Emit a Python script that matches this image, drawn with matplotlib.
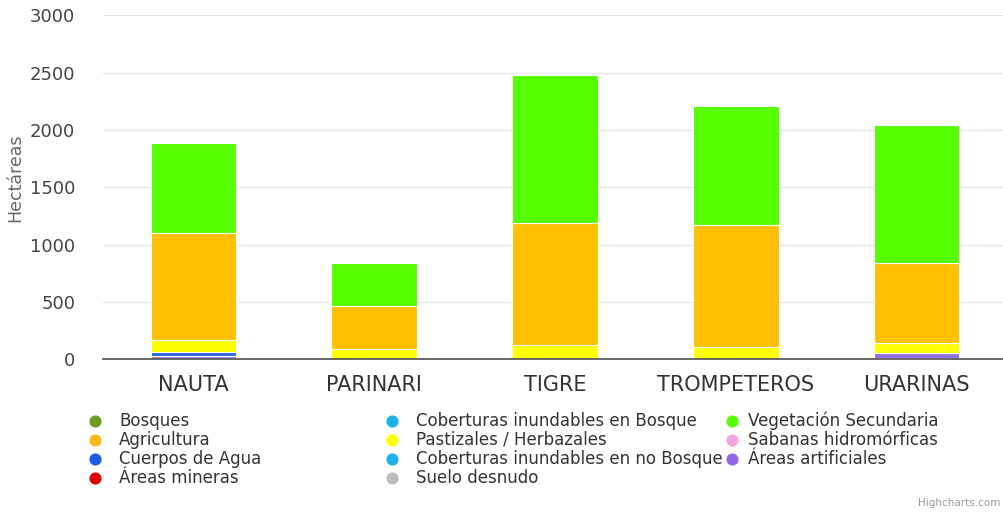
import numpy as np
import matplotlib
matplotlib.use("Agg")
import matplotlib.pyplot as plt

plt.rcParams['font.family'] = ['DejaVu Sans']

# municipios
categories = ["NAUTA", "PARINARI", "TIGRE", "TROMPETEROS", "URARINAS"]

# hectáreas por cobertura
bosques = [0, 0, 0, 0, 0]
agricultura = [933, 378, 1064, 1058, 697]
cuerpos_agua = [36, 0, 0, 0, 0]
areas_mineras = [0, 0, 0, 0, 0]
cob_inund_bosque = [0, 0, 0, 0, 0]
pastizales = [102, 87, 125, 110, 90]
cob_inund_no_bosque = [0, 0, 0, 0, 0]
suelo_desnudo = [0, 0, 0, 0, 0]
veg_secundaria = [788, 372, 1290, 1043, 1200]
sabanas = [0, 0, 0, 0, 0]
areas_artificiales = [30, 0, 0, 0, 55]

# legend is laid out column by column, like the original
legend_cols = [
    [("Bosques", "#6b9e1f"), ("Agricultura", "#ffb81c"),
     ("Cuerpos de Agua", "#1a5ce6"), ("Áreas mineras", "#e00000")],
    [("Coberturas inundables en Bosque", "#1fb0ea"), ("Pastizales / Herbazales", "#ffff00"),
     ("Coberturas inundables en no Bosque", "#1fb0ea"), ("Suelo desnudo", "#bdbdbd")],
    [("Vegetación Secundaria", "#55ff00"), ("Sabanas hidromórficas", "#f7a3e3"),
     ("Áreas artificiales", "#9467e8")],
]

# stacking order, bottom to top
stack = [
    (suelo_desnudo, "#bdbdbd"),
    (areas_mineras, "#e00000"),
    (areas_artificiales, "#9370e0"),
    (cob_inund_no_bosque, "#1fb0ea"),
    (cuerpos_agua, "#2a62d8"),
    (sabanas, "#f7a3e3"),
    (pastizales, "#ffff00"),
    (agricultura, "#ffc000"),
    (veg_secundaria, "#55ff00"),
    (cob_inund_bosque, "#1fb0ea"),
    (bosques, "#6b9e1f"),
]

W, H = 1004, 515
fig = plt.figure(figsize=(W / 100, H / 100), dpi=100)
ax = fig.add_axes([103 / W, (H - 359.3) / H, 904 / W, 344 / H])

x = np.arange(len(categories))
bottom = np.zeros(len(categories))
for vals, col in stack:
    v = np.array(vals, dtype=float)
    m = v > 0
    if m.any():
        ax.bar(x[m], v[m], width=0.473, bottom=bottom[m], color=col,
               edgecolor="white", linewidth=0.8, zorder=3)
    bottom += v

ax.set_xlim(-0.5, 4.5)
ax.set_ylim(0, 3000)
ax.set_yticks(np.arange(0, 3001, 500))
ax.grid(axis="y", color="#e6e6e6", linewidth=1, zorder=0)
ax.set_xticks(x)
ax.set_xticklabels(categories, fontsize=15, color="#333333")
ax.tick_params(axis="x", length=0, pad=11)
ax.tick_params(axis="y", length=0, pad=20, labelsize=13, labelcolor="#444444")
for s in ["top", "right", "left"]:
    ax.spines[s].set_visible(False)
ax.spines["bottom"].set_color("#666666")
ax.spines["bottom"].set_linewidth(1.4)
ax.spines["bottom"].set_zorder(4)

ax.set_ylabel("Hectáreas", fontsize=12.5, color="#666666")
ax.yaxis.set_label_coords(-0.087, 0.527)

# legend drawn by hand at the original column positions
lax = fig.add_axes([0, 0, 1, 1])
lax.set_xlim(0, W)
lax.set_ylim(H, 0)
lax.axis("off")
marker_x = [95, 392, 732]
text_x = [119, 416, 748]
row_y = [421, 440, 459, 478]
for ci, col_items in enumerate(legend_cols):
    for ri, (label, color) in enumerate(col_items):
        lax.scatter(marker_x[ci], row_y[ri], s=60, color=color, zorder=3)
        lax.text(text_x[ci], row_y[ri], label, fontsize=12.0, color="#333333",
                 va="center", ha="left", zorder=2)

lax.text(1000, 503, "Highcharts.com", fontsize=7.5, color="#999999",
         va="center", ha="right")

fig.savefig("out.png", dpi=100)
